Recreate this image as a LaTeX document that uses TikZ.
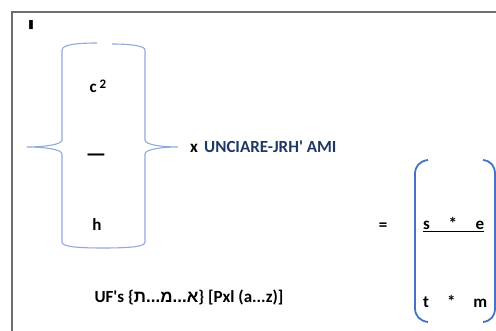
\documentclass[tikz,border=0pt]{standalone}
\usepackage{fontspec}
\setmainfont{Carlito}
\newfontfamily\hebfont[Script=Hebrew]{Liberation Sans}
\TeXXeTstate=1
\usetikzlibrary{positioning}
\definecolor{braceblue}{RGB}{143,170,220}
\definecolor{parenblue}{RGB}{68,114,196}
\definecolor{navy}{RGB}{31,56,100}
\definecolor{framegray}{RGB}{110,110,110}

\begin{document}
\begin{tikzpicture}[x=1pt,y=-1pt,every node/.style={font=\bfseries\fontsize{17}{20}\selectfont,inner sep=0pt,anchor=base}]
\tikzstyle{brace} = [draw=braceblue, line width=1.1pt]
\tikzstyle{paren} = [draw=parenblue, line width=1.8pt]
\useasboundingbox (0,0) rectangle (496,331);
\draw[framegray, line width=1.5pt] (496,12) -- (12,12) -- (12,331);

\node[font=\bfseries\fontsize{28}{30}\selectfont] (yod) at (31,38) {\hebfont\beginR י\endR};

\draw[brace] (97,43) .. controls (75,43) and (62,45) .. (62,50) -- (62,140)
  .. controls (62,145) and (42,147) .. (27,147) .. controls (42,147) and (62,149) .. (62,154)
  -- (62,242) .. controls (62,246) and (72,248) .. (103,248) .. controls (135,248) and (145,246) .. (145,242)
  -- (145,154) .. controls (145,149) and (163,147) .. (178,147) .. controls (163,147) and (145,145) .. (145,140)
  -- (145,50) .. controls (145,46) and (132,44) .. (112,44);

\node (c2) at (98,93) {c\,\raisebox{0.6ex}{\fontsize{13}{15}\selectfont 2}};
\node[font=\bfseries\fontsize{23}{25}\selectfont] (bar) at (96,162) {—};
\node (h) at (97,231) {h};

\node (times) at (194,153) {x};
\node[anchor=base west, text=navy] (name) at (204,153) {UNCIARE-JRH\textquotesingle{} AMI};

\node (eq) at (383,231) {=};

\draw[paren] (428,160) .. controls (420,161) and (415,166) .. (415,174) -- (415,308)
  .. controls (415,316) and (420,321) .. (428,322);
\draw[paren] (483,160) .. controls (491,161) and (495,166) .. (495,174) -- (495,308)
  .. controls (495,316) and (491,321) .. (483,322);

\node[anchor=base west] (se) at (423,230) {\underline{\makebox[61pt]{s\hfill*\hfill e}}};
\node[anchor=base west] (tm) at (423,308) {\makebox[64pt]{t\hfill*\hfill m}};

\node (uf) at (189,303) {UF\textquotesingle s \{{\hebfont\beginR א...מ...ת\endR}\} [Pxl (a...z)]};
\end{tikzpicture}
\end{document}
